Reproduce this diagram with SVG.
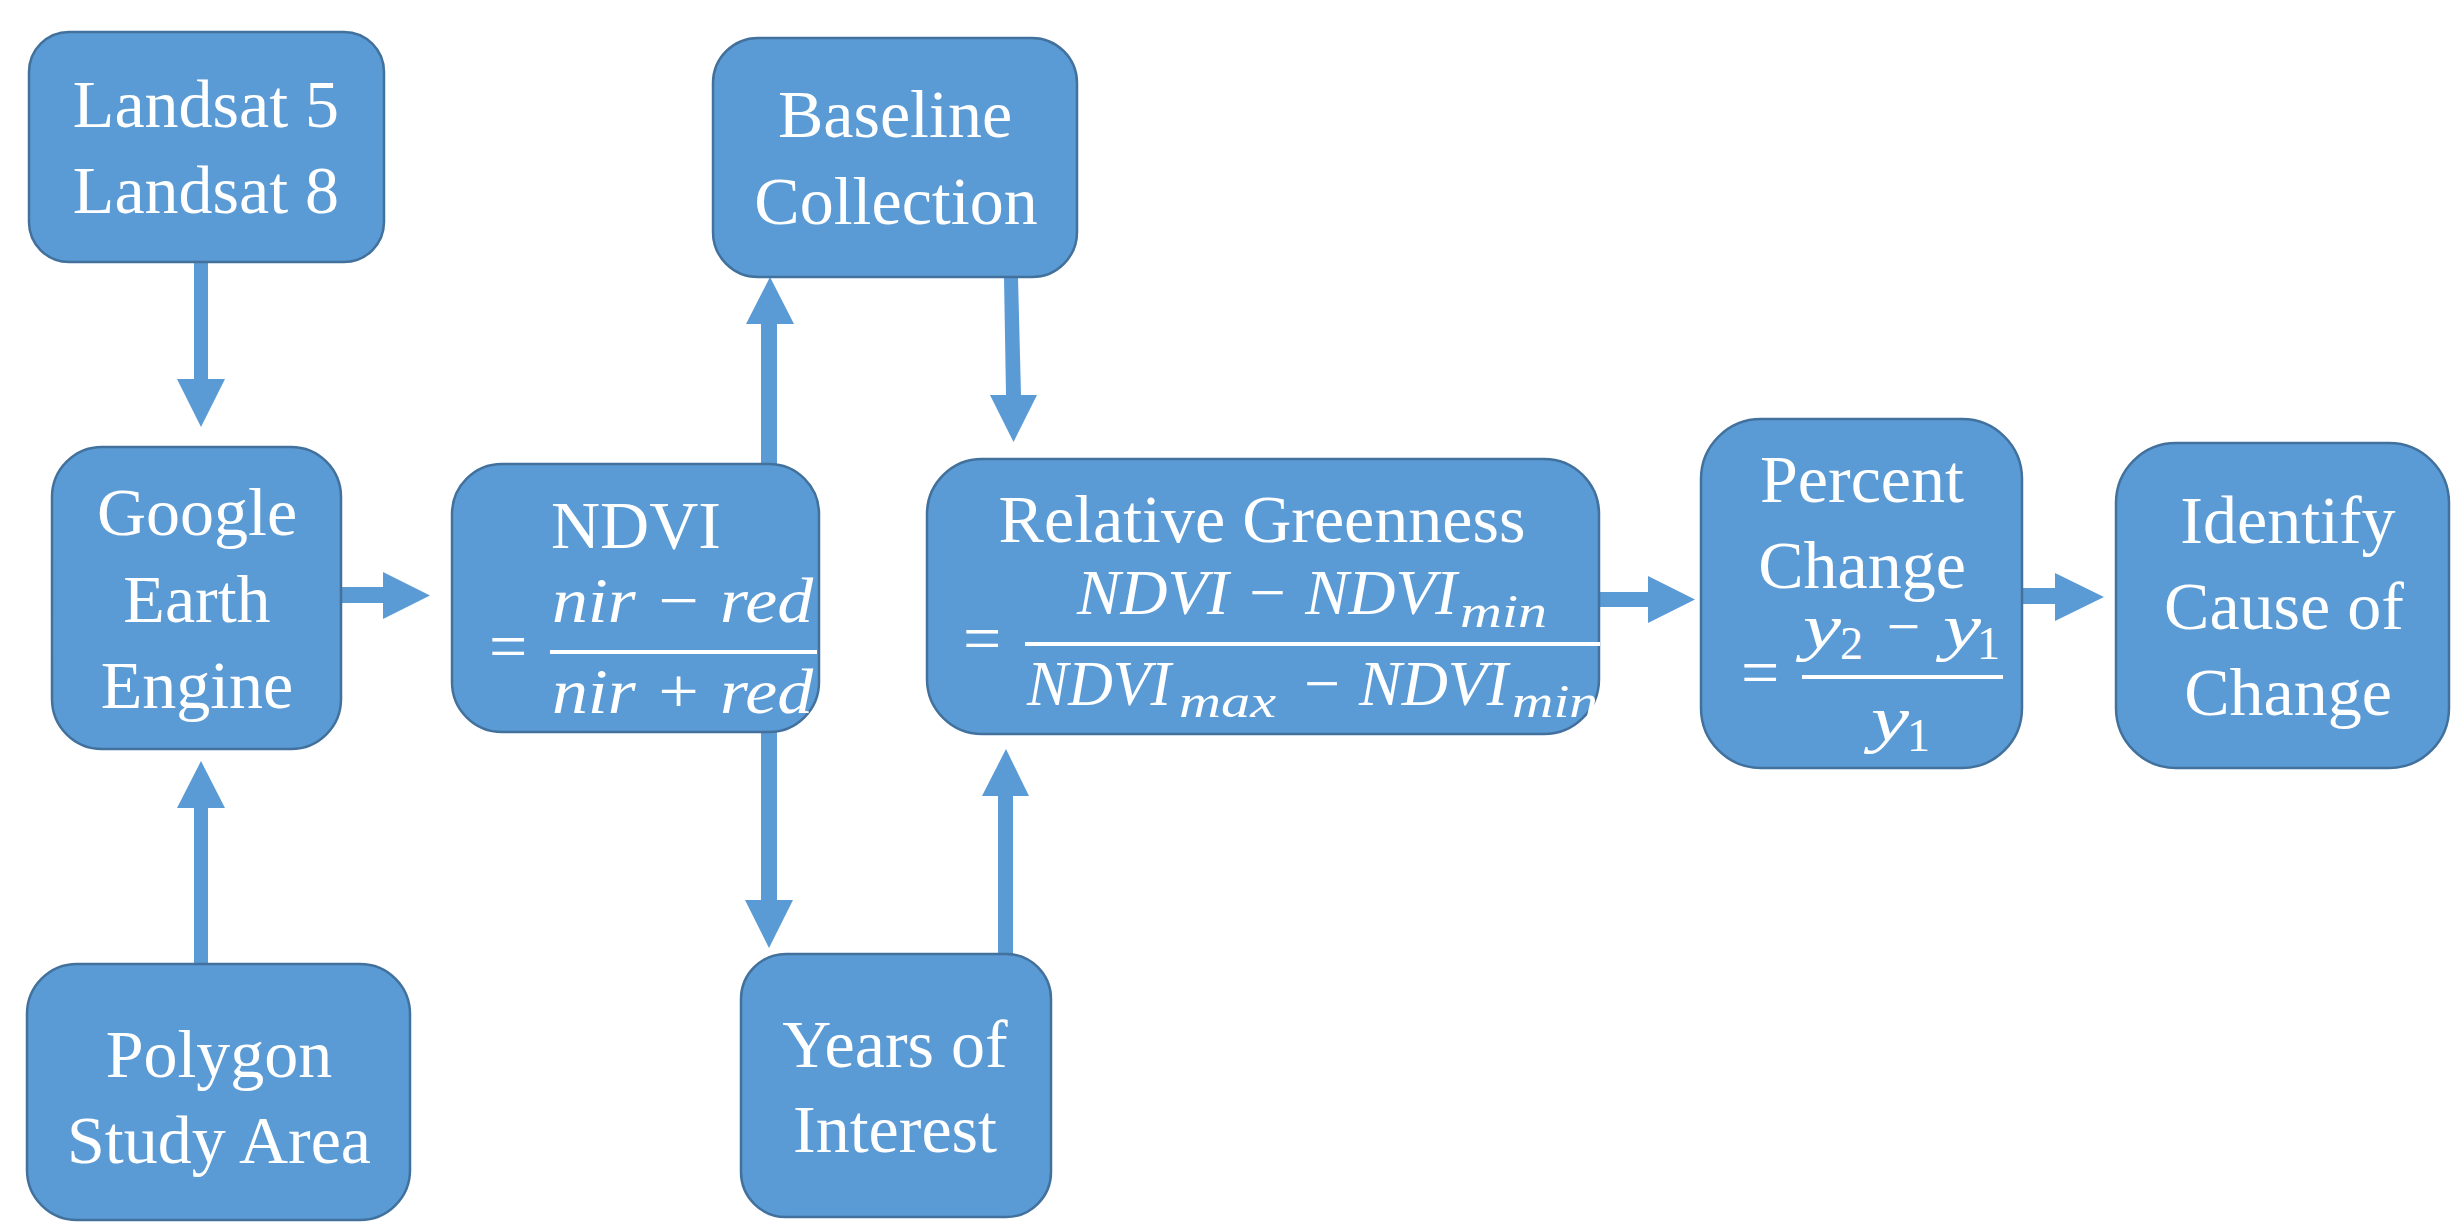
<svg xmlns="http://www.w3.org/2000/svg" width="2451" height="1223" viewBox="0 0 2451 1223">
<defs>
<style>
.box{fill:#5B9BD5;stroke:#41719C;stroke-width:2.5}
.arr{fill:#5B9BD5;stroke:none}
.lbl{fill:#FFFFFF;font-family:"Liberation Serif","Times New Roman",serif;font-size:68px;text-anchor:middle}
.m{fill:#FFFFFF;font-family:"Liberation Serif","Times New Roman",serif;font-style:italic;font-size:64px}
.sub{fill:#FFFFFF;font-family:"Liberation Serif","Times New Roman",serif;font-style:italic;font-size:46px}
.dig{fill:#FFFFFF;font-family:"Liberation Serif","Times New Roman",serif;font-size:46px}
.eq{fill:#FFFFFF;font-family:"Liberation Serif","Times New Roman",serif;font-size:68px}
.bar{fill:#FFFFFF}
</style>
</defs>
<rect width="2451" height="1223" fill="#FFFFFF"/>
<g id="connectors">
<polygon class="arr" points="194,262 208,262 208,379 225,379 201,427 177,379 194,379"/>
<polygon class="arr" points="194,964 208,964 208,808 225,808 201,761 177,808 194,808"/>
<polygon class="arr" points="341,587 383,587 383,572 430,595.5 383,619 383,603 341,603"/>
<polygon class="arr" points="761,464 777,464 777,324 794,324 770,277 746,324 761,324"/>
<polygon class="arr" points="761,732 777,732 777,900 793,900 769,948 745,900 761,900"/>
<polygon class="arr" points="1004,277 1018,277 1021,395 1037,395 1013.5,442 990,395 1006,395"/>
<polygon class="arr" points="998,954 1013,954 1013,796 1029,796 1006,749 982,796 998,796"/>
<polygon class="arr" points="1599,592 1648,592 1648,576 1695,599.5 1648,623 1648,607 1599,607"/>
<polygon class="arr" points="2022,588 2055,588 2055,573 2104,597 2055,621 2055,604 2022,604"/>
</g>
<g id="landsat">
<rect class="box" x="29" y="32" width="355" height="230" rx="40"/>
<text class="lbl" x="206" y="127">Landsat 5</text>
<text class="lbl" x="206" y="213">Landsat 8</text>
</g>
<g id="gee">
<rect class="box" x="52" y="447" width="289" height="302" rx="50"/>
<text class="lbl" x="197" y="535">Google</text>
<text class="lbl" x="197" y="622">Earth</text>
<text class="lbl" x="197" y="708">Engine</text>
</g>
<g id="polygon">
<rect class="box" x="27" y="964" width="383" height="256" rx="50"/>
<text class="lbl" x="219" y="1077">Polygon</text>
<text class="lbl" x="219" y="1163">Study Area</text>
</g>
<g id="ndvi">
<rect class="box" x="452" y="464" width="367" height="268" rx="50"/>
<text class="lbl" x="636" y="548">NDVI</text>
<text class="eq" x="489" y="669">=</text>
<rect class="bar" x="550" y="650" width="267" height="4"/>
<text class="m" x="552" y="622" font-size="62" textLength="261" lengthAdjust="spacingAndGlyphs">nir − red</text>
<text class="m" x="552" y="713" font-size="62" textLength="261" lengthAdjust="spacingAndGlyphs">nir + red</text>
</g>
<g id="baseline">
<rect class="box" x="713" y="38" width="364" height="239" rx="45"/>
<text class="lbl" x="895" y="137">Baseline</text>
<text class="lbl" x="896" y="224">Collection</text>
</g>
<g id="years">
<rect class="box" x="741" y="954" width="310" height="263" rx="45"/>
<text class="lbl" x="895" y="1067">Years of</text>
<text class="lbl" x="895" y="1152">Interest</text>
</g>
<g id="rg">
<rect class="box" x="927" y="459" width="672" height="275" rx="55"/>
<text class="lbl" x="1262" y="542">Relative Greenness</text>
<text class="eq" x="963" y="661">=</text>
<rect class="bar" x="1025" y="642" width="575" height="4"/>
<text class="m" x="1077" y="614" textLength="380" lengthAdjust="spacingAndGlyphs">NDVI − NDVI</text>
<text class="sub" x="1460" y="627" textLength="87" lengthAdjust="spacingAndGlyphs">min</text>
<text class="m" x="1027" y="705" textLength="144" lengthAdjust="spacingAndGlyphs">NDVI</text>
<text class="sub" x="1179" y="717" textLength="97" lengthAdjust="spacingAndGlyphs">max</text>
<text class="m" x="1300" y="705" textLength="208" lengthAdjust="spacingAndGlyphs">− NDVI</text>
<text class="sub" x="1512" y="717" textLength="86" lengthAdjust="spacingAndGlyphs">min</text>
</g>
<g id="percent">
<rect class="box" x="1701" y="419" width="321" height="349" rx="60"/>
<text class="lbl" x="1862" y="502">Percent</text>
<text class="lbl" x="1862" y="588">Change</text>
<text class="eq" x="1741" y="695">=</text>
<rect class="bar" x="1802" y="675" width="201" height="4"/>
<text class="m" x="1803" y="648" textLength="38" lengthAdjust="spacingAndGlyphs">y</text>
<text class="dig" x="1840" y="659">2</text>
<text class="m" x="1883" y="648" textLength="40" lengthAdjust="spacingAndGlyphs">−</text>
<text class="m" x="1943" y="648" textLength="38" lengthAdjust="spacingAndGlyphs">y</text>
<text class="dig" x="1977" y="659">1</text>
<text class="m" x="1871" y="740" textLength="38" lengthAdjust="spacingAndGlyphs">y</text>
<text class="dig" x="1907" y="751">1</text>
</g>
<g id="identify">
<rect class="box" x="2116" y="443" width="333" height="325" rx="60"/>
<text class="lbl" x="2288" y="543">Identify</text>
<text class="lbl" x="2284" y="629">Cause of</text>
<text class="lbl" x="2288" y="715">Change</text>
</g>
</svg>
